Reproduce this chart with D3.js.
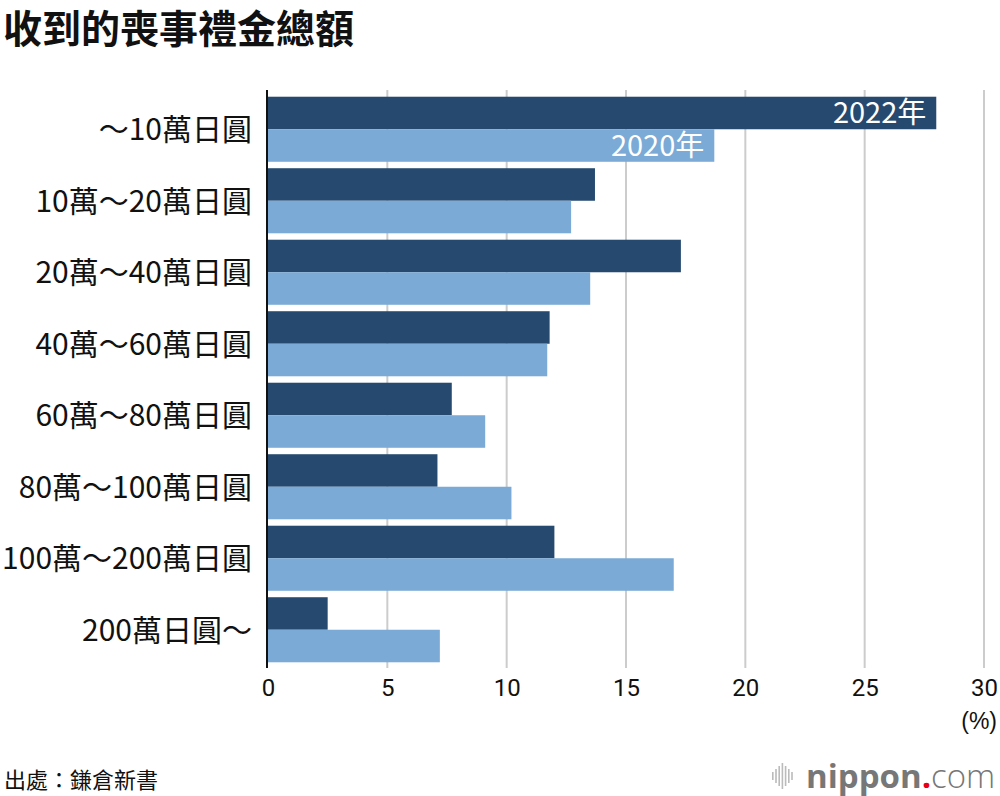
<!DOCTYPE html>
<html lang="zh-Hant">
<head>
<meta charset="UTF-8">
<title>收到的喪事禮金總額</title>
<style>
  body { margin: 0; background: #fff; }
  svg { display: block; font-family: "Noto Sans CJK TC", "Noto Sans", sans-serif; }
  .tick text { font-family: "Liberation Sans Narrow", "Roboto", sans-serif; }
</style>
</head>
<body>
<svg id="chart" width="1000" height="796"></svg>
<script src="https://d3js.org/d3.v7.min.js"></script>
<script>
// data (percent)
const categories = ["～10萬日圓", "10萬～20萬日圓", "20萬～40萬日圓", "40萬～60萬日圓",
  "60萬～80萬日圓", "80萬～100萬日圓", "100萬～200萬日圓", "200萬日圓～"];
const values2022 = [28.0, 13.7, 17.3, 11.8, 7.7, 7.1, 12.0, 2.5];
const values2020 = [18.7, 12.7, 13.5, 11.7, 9.1, 10.2, 17.0, 7.2];
const seriesNames = ["2022年", "2020年"];
const xTicks = [0, 5, 10, 15, 20, 25, 30];

const dark = "#264a6f", light = "#7aaad5";

const svg = d3.select("#chart");

const x = d3.scaleLinear().domain([0, 30]).range([268, 984]);
const y = d3.scaleBand().domain(categories).range([93.5, 665.5])
  .paddingInner(0.09).paddingOuter(0.045);
const sub = d3.scaleBand().domain(seriesNames).range([0, y.bandwidth()]);

// title
svg.append("text")
  .attr("x", 3).attr("y", 43)
  .attr("font-size", 39).attr("font-weight", 700)
  .attr("fill", "#111")
  .text("收到的喪事禮金總額");

// grid
svg.append("g").selectAll("line")
  .data(xTicks.slice(1))
  .join("line")
  .attr("x1", d => x(d)).attr("x2", d => x(d))
  .attr("y1", 90).attr("y2", 668)
  .attr("stroke", "#cccccc").attr("stroke-width", 2);

// bars
const rows = categories.map((c, i) => ({ cat: c, v: [values2022[i], values2020[i]] }));
const groups = svg.append("g").selectAll("g")
  .data(rows)
  .join("g")
  .attr("transform", d => `translate(0,${y(d.cat)})`);

groups.selectAll("rect")
  .data(d => seriesNames.map((s, j) => ({ s, v: d.v[j] })))
  .join("rect")
  .attr("x", x(0))
  .attr("y", d => sub(d.s))
  .attr("width", d => x(d.v) - x(0))
  .attr("height", sub.bandwidth())
  .attr("fill", d => d.s === "2022年" ? dark : light);

// series labels inside first group
svg.append("g").selectAll("text")
  .data(seriesNames.map((s, j) => ({ s, v: rows[0].v[j] })))
  .join("text")
  .attr("x", d => x(d.v) - 10)
  .attr("y", d => y(categories[0]) + sub(d.s) + sub.bandwidth() / 2)
  .attr("dy", "0.36em")
  .attr("text-anchor", "end")
  .attr("font-size", 29)
  .attr("fill", "#fff")
  .text(d => d.s);

// category labels
svg.append("g").selectAll("text")
  .data(categories)
  .join("text")
  .attr("x", 252)
  .attr("y", d => y(d) + y.bandwidth() / 2)
  .attr("dy", "0.36em")
  .attr("text-anchor", "end")
  .attr("font-size", 30)
  .attr("fill", "#111")
  .text(d => d);

// x axis
const xAxis = svg.append("g")
  .attr("transform", "translate(0,668)")
  .call(d3.axisBottom(x).tickValues(xTicks).tickSize(0).tickPadding(11));
xAxis.select(".domain").remove();
xAxis.selectAll("text").attr("font-size", 24).attr("fill", "#111");

svg.append("text")
  .attr("x", 997).attr("y", 729)
  .attr("text-anchor", "end")
  .attr("font-family", "Liberation Sans Narrow, sans-serif")
  .attr("font-size", 23).attr("fill", "#111")
  .text("(%)");

// y axis line
svg.append("line")
  .attr("x1", 267).attr("x2", 267)
  .attr("y1", 90).attr("y2", 668)
  .attr("stroke", "#111").attr("stroke-width", 2);

// source
svg.append("text")
  .attr("x", 4).attr("y", 788)
  .attr("font-size", 22).attr("fill", "#111")
  .text("出處：鎌倉新書");

// logo
const logo = svg.append("g").attr("transform", "translate(772,778)");
const waves = [8, 14, 20, 26, 20, 14, 8];
logo.selectAll("rect")
  .data(waves)
  .join("rect")
  .attr("x", (d, i) => i * 3.2)
  .attr("y", d => -d / 2 - 2)
  .attr("width", 1.6)
  .attr("height", d => d)
  .attr("fill", "#bbb");
const lt = logo.append("text")
  .attr("x", 34).attr("y", 10)
  .attr("font-family", "Open Sans, sans-serif")
  .attr("font-size", 33).attr("fill", "#777");
lt.append("tspan").attr("font-weight", 700).text("nippon");
lt.append("tspan").attr("font-weight", 700).attr("fill", "#e60012").text(".");
lt.append("tspan").attr("font-weight", 300).text("com");
</script>
</body>
</html>
